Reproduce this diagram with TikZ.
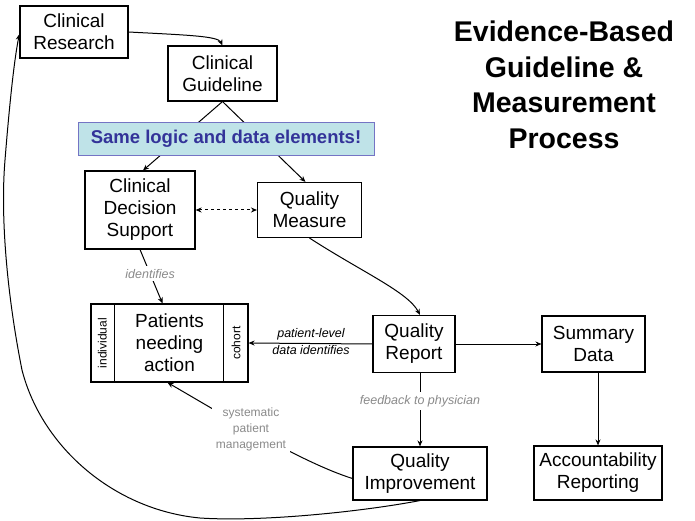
\documentclass[tikz,border=0pt]{standalone}
\usepackage{fontspec}
\setmainfont{Liberation Sans}
\usetikzlibrary{arrows.meta}
\definecolor{bannerfill}{HTML}{BFE3E8}
\definecolor{bannerdraw}{HTML}{7474C4}
\definecolor{bannertext}{HTML}{333399}
\definecolor{labgray}{HTML}{8A8A8A}
\tikzset{
  box/.style={draw, line width=1.1pt, align=center, inner sep=0pt,
    font=\fontsize{19}{22}\selectfont},
  arr/.style={line width=1pt, -{Stealth[length=6pt,width=5pt]}},
  biarr/.style={line width=1pt, dashed, {Stealth[length=6pt,width=5pt]}-{Stealth[length=6pt,width=5pt]}},
  graylab/.style={fill=white, text=labgray, inner sep=3pt, align=center,
    font=\fontsize{12.5}{16}\selectfont\itshape},
}
\begin{document}
\begin{tikzpicture}[x=1pt,y=-1pt]
\useasboundingbox (0,0) rectangle (695,521);

% title
\node[align=center, font=\fontsize{28.5}{35.5}\selectfont\bfseries] (title) at (564,85)
  {Evidence-Based\\Guideline \&\\Measurement\\Process};

% boxes
\node[box, minimum width=108pt, minimum height=52pt] (CR) at (74,32) {Clinical\\Research};
\node[box, minimum width=109pt, minimum height=55pt] (CG) at (222.5,73.5) {Clinical\\Guideline};
\node[box, minimum width=110pt, minimum height=78pt] (CDS) at (140,210) {Clinical\\Decision\\Support};
\node[box, minimum width=104pt, minimum height=55pt] (QM) at (309.5,210) {Quality\\Measure};
\node[box, minimum width=157pt, minimum height=78pt] (PNA) at (169.5,343) {Patients\\needing\\action};
\node[box, minimum width=82pt, minimum height=57pt] (QR) at (414,344) {Quality\\Report};
\node[box, minimum width=103pt, minimum height=56pt] (SD) at (593.5,344) {Summary\\Data};
\node[box, minimum width=134pt, minimum height=53pt] (QI) at (420,473.5) {Quality\\Improvement};
\node[box, minimum width=128pt, minimum height=54pt] (AR) at (598,473) {Accountability\\Reporting};

% patients box dividers and side labels
\draw[line width=1.1pt] ([xshift=24pt]PNA.north west) -- ([xshift=24pt]PNA.south west);
\draw[line width=1.1pt] ([xshift=-25pt]PNA.north east) -- ([xshift=-25pt]PNA.south east);
\node[rotate=90, font=\fontsize{12}{14}\selectfont] (indiv) at ([xshift=12pt]PNA.west) {individual};
\node[rotate=90, font=\fontsize{12}{14}\selectfont] (cohort) at ([xshift=-12.5pt]PNA.east) {cohort};

% connectors
\draw[arr] (CR.east) .. controls (185,35) and (218,36) .. (CG.north);
\draw[arr] (CG.south) -- ([xshift=3pt]CDS.north);
\draw[arr] (CG.south) -- ([xshift=-4pt]QM.north);

% banner
\node[draw=bannerdraw, fill=bannerfill, line width=0.8pt, minimum width=296pt, minimum height=33pt,
  inner sep=0pt, text=bannertext, font=\fontsize{18.5}{20}\selectfont\bfseries] (banner) at (226,138.5)
  {Same logic and data elements!};

\draw[biarr] (CDS.east) -- (QM.west);

\draw[arr] (CDS.south) -- node[graylab, pos=0.45] (lid) {identifies} ([xshift=-7pt]PNA.north);

\draw[arr] (QM.south) .. controls (362,272) and (408,292) .. ([xshift=6pt]QR.north);

\draw[arr] (QR.east) -- (SD.west);

\draw[arr] (QR.south -| QI.north) -- node[graylab, pos=0.38] (lfb) {feedback to physician} (QI.north);

\draw[arr] (SD.south -| AR.north) -- (AR.north);

\draw[line width=1pt, -{Stealth[length=6pt,width=5pt]}] (QR.west) -- (PNA.east);
\node[font=\fontsize{12.5}{16}\selectfont\itshape, align=center] (lpl) at (311,342) {patient-level\\[1pt]data identifies};

\draw[arr] ([yshift=-5pt]QI.west) .. controls (300,462) and (215,410) .. ([xshift=-2pt]PNA.south);
\node[fill=white, text=labgray, inner sep=4pt, align=center, font=\fontsize{12}{16}\selectfont] (lspm) at (251,429)
  {systematic\\patient\\management};

% big loop
\draw[arr] (QI.south) .. controls (360,512) and (260,522) .. (200,518)
  .. controls (115,510) and (42,448) .. (22,370)
  .. controls (8,300) and (0,220) .. (5,160)
  .. controls (9,110) and (14,60) .. ([yshift=-2pt]CR.west);
\end{tikzpicture}
\end{document}
